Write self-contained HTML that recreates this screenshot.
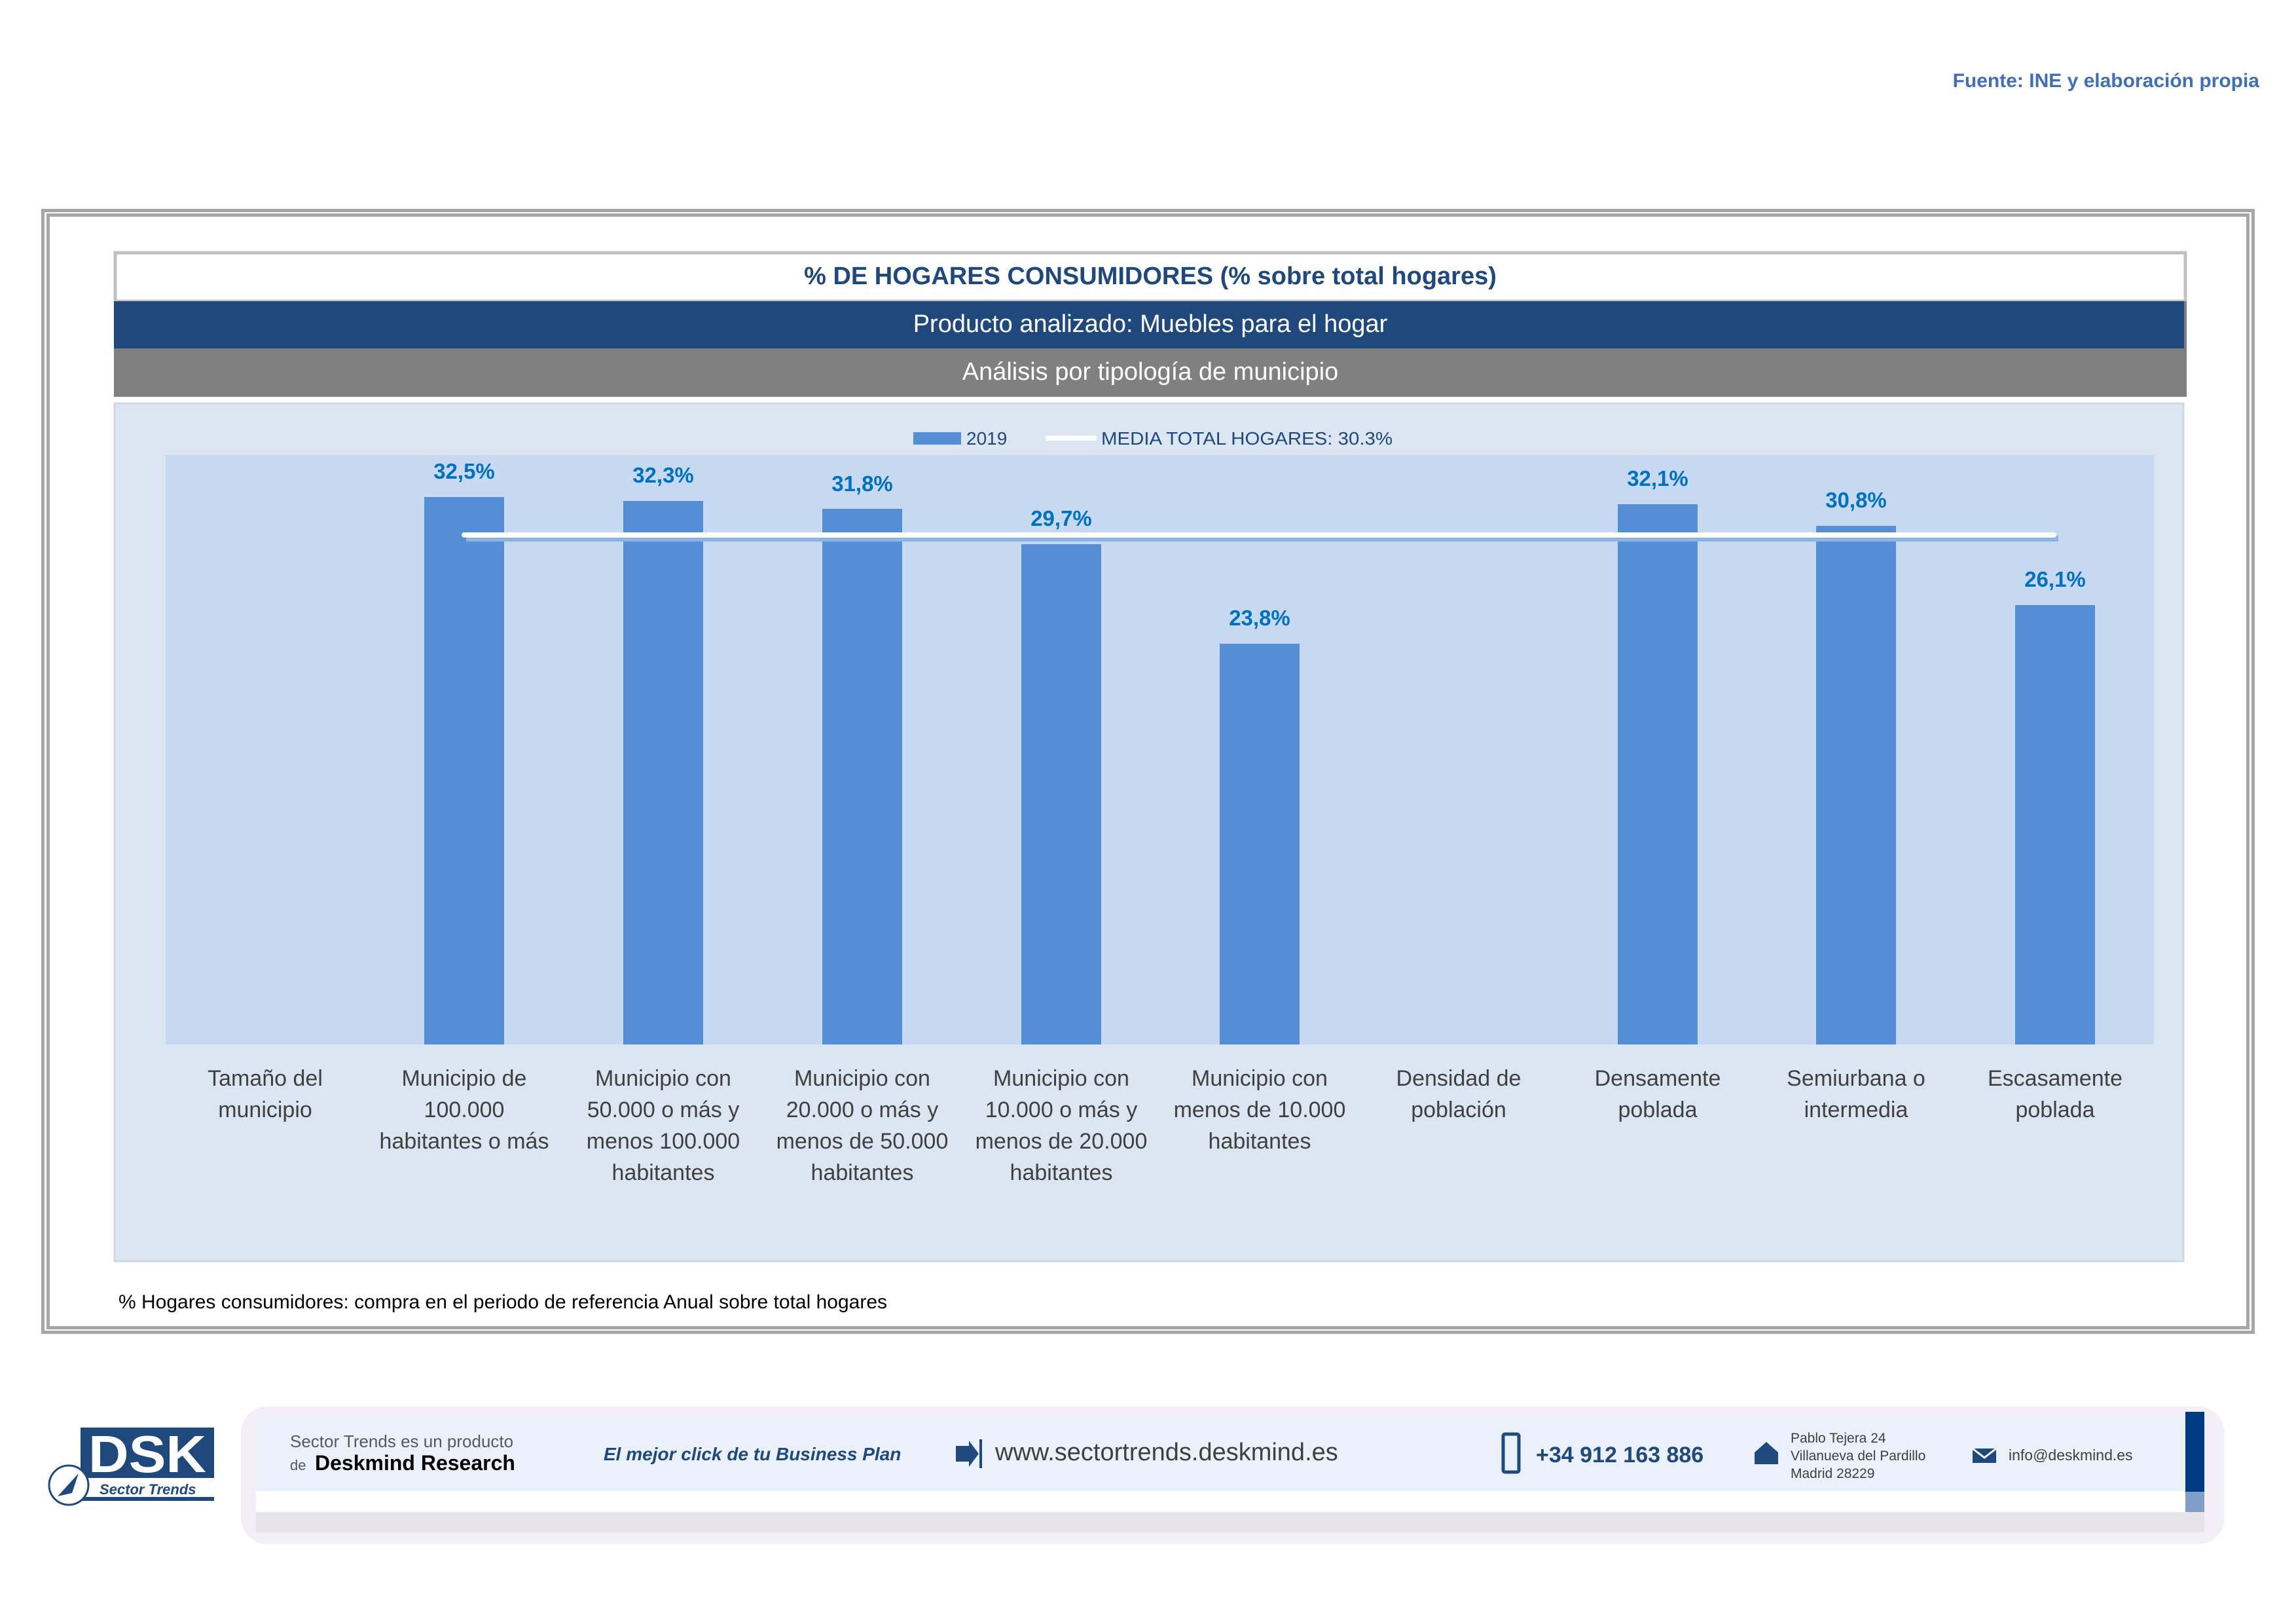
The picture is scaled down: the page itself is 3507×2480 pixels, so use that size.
<!DOCTYPE html>
<html><head><meta charset="utf-8"><style>
html,body{margin:0;padding:0;background:#fff;}
svg{display:block;}
</style></head><body>
<svg width="3507" height="2480" viewBox="0 0 3507 2480" xmlns="http://www.w3.org/2000/svg" font-family="Liberation Sans, sans-serif">
<rect width="3507" height="2480" fill="#fff"/>
<text x="3451" y="133" text-anchor="end" font-size="30" font-weight="bold" fill="#3f6fb5">Fuente: INE y elaboración propia</text>
<rect x="65.5" y="321.5" width="3376" height="1713" fill="none" stroke="#a6a6a6" stroke-width="5"/>
<rect x="73.5" y="328.5" width="3360" height="1699" fill="none" stroke="#a6a6a6" stroke-width="5"/>
<rect x="176" y="386" width="3162" height="74" fill="#fff" stroke="#c0c0c0" stroke-width="5"/>
<text x="1757" y="434" text-anchor="middle" font-size="38" font-weight="bold" fill="#1f497d">% DE HOGARES CONSUMIDORES (% sobre total hogares)</text>
<rect x="174" y="460" width="3166" height="72" fill="#1f497d"/>
<text x="1757" y="507" text-anchor="middle" font-size="38" fill="#fff">Producto analizado: Muebles para el hogar</text>
<rect x="174" y="532" width="3166" height="74" fill="#808080"/>
<rect x="3336" y="460" width="4" height="146" fill="#7f7f7f"/>
<text x="1757" y="580" text-anchor="middle" font-size="38" fill="#fff">Análisis por tipología de municipio</text>
<rect x="175" y="616" width="3160" height="1310" fill="#dce6f2" stroke="#d0d7e0" stroke-width="3"/>
<rect x="253" y="695" width="3037" height="900" fill="#c6d9f0"/>
<rect x="1395" y="660" width="73" height="19" fill="#558ed5"/>
<text x="1476" y="679" font-size="28" fill="#1f497d">2019</text>
<rect x="1597" y="665" width="78" height="8" rx="3" fill="#fff"/>
<text x="1682" y="679" font-size="28" fill="#1f497d" textLength="445" lengthAdjust="spacingAndGlyphs">MEDIA TOTAL  HOGARES:  30.3%</text>
<g fill="#558ed5">
<rect x="648" y="759" width="122" height="836"/>
<rect x="952" y="765" width="122" height="830"/>
<rect x="1256" y="777" width="122" height="818"/>
<rect x="1560" y="831" width="122" height="764"/>
<rect x="1863" y="983" width="122" height="612"/>
<rect x="2471" y="770" width="122" height="825"/>
<rect x="2774" y="803" width="122" height="792"/>
<rect x="3078" y="924" width="122" height="671"/>
</g>
<rect x="712" y="818" width="2432" height="9" fill="#8eb4e3"/>
<rect x="705" y="813" width="2436" height="8" rx="4" fill="#fff"/>
<g font-size="33" font-weight="bold" fill="#0070c0" text-anchor="middle">
<text x="709" y="731">32,5%</text>
<text x="1013" y="737">32,3%</text>
<text x="1317" y="750">31,8%</text>
<text x="1621" y="803">29,7%</text>
<text x="1924" y="955">23,8%</text>
<text x="2532" y="742">32,1%</text>
<text x="2835" y="775">30,8%</text>
<text x="3139" y="896">26,1%</text>
</g>
<g font-size="34" fill="#404040" text-anchor="middle">
<text x="405" y="1658">Tamaño del</text><text x="405" y="1706">municipio</text>
<text x="709" y="1658">Municipio de</text><text x="709" y="1706">100.000</text><text x="709" y="1754">habitantes o más</text>
<text x="1013" y="1658">Municipio con</text><text x="1013" y="1706">50.000 o más y</text><text x="1013" y="1754">menos 100.000</text><text x="1013" y="1802">habitantes</text>
<text x="1317" y="1658">Municipio con</text><text x="1317" y="1706">20.000 o más y</text><text x="1317" y="1754">menos de 50.000</text><text x="1317" y="1802">habitantes</text>
<text x="1621" y="1658">Municipio con</text><text x="1621" y="1706">10.000 o más y</text><text x="1621" y="1754">menos de 20.000</text><text x="1621" y="1802">habitantes</text>
<text x="1924" y="1658">Municipio con</text><text x="1924" y="1706">menos de 10.000</text><text x="1924" y="1754">habitantes</text>
<text x="2228" y="1658">Densidad de</text><text x="2228" y="1706">población</text>
<text x="2532" y="1658">Densamente</text><text x="2532" y="1706">poblada</text>
<text x="2835" y="1658">Semiurbana o</text><text x="2835" y="1706">intermedia</text>
<text x="3139" y="1658">Escasamente</text><text x="3139" y="1706">poblada</text>
</g>
<text x="181" y="1998" font-size="30" fill="#000">% Hogares consumidores: compra en el periodo de referencia Anual sobre total hogares</text>
<rect x="368" y="2148" width="3030" height="210" rx="40" fill="#f3eef7"/>
<rect x="391" y="2300" width="2976" height="40" fill="#e6e4e8"/>
<rect x="391" y="2165" width="2950" height="112" fill="#eaf1fb"/>
<rect x="391" y="2277" width="2950" height="32" fill="#fff"/>
<rect x="3338" y="2156" width="29" height="122" fill="#003a80"/>
<rect x="3338" y="2278" width="29" height="31" fill="#7f9fc8"/>
<rect x="123" y="2180" width="204" height="77" fill="#1f497d"/>
<text x="225" y="2248" text-anchor="middle" font-size="80" font-weight="bold" fill="#fff" textLength="180" lengthAdjust="spacingAndGlyphs">DSK</text>
<text x="152" y="2282" font-size="22" font-style="italic" font-weight="bold" fill="#1f497d">Sector Trends</text>
<rect x="123" y="2286" width="204" height="6" fill="#1f497d"/>
<circle cx="105" cy="2268" r="30" fill="#fff" stroke="#1f497d" stroke-width="3"/>
<path d="M88 2285 L120 2250 L110 2280 Z" fill="#1f497d"/>
<text x="443" y="2210" font-size="26" fill="#595959">Sector Trends es un producto</text>
<text x="443" y="2245" font-size="22" fill="#595959">de</text>
<text x="481" y="2245" font-size="32" font-weight="bold" fill="#000">Deskmind Research</text>
<text x="922" y="2230" font-size="28" font-weight="bold" font-style="italic" fill="#1f497d">El mejor click de tu Business Plan</text>
<path d="M1460 2208 L1480 2208 L1480 2200 L1495 2220 L1480 2240 L1480 2232 L1460 2232 Z" fill="#1f497d"/>
<rect x="1496" y="2198" width="4" height="44" fill="#1f497d"/>
<text x="1520" y="2230" font-size="38" fill="#404040">www.sectortrends.deskmind.es</text>
<rect x="2296" y="2190" width="24" height="58" rx="3" fill="none" stroke="#1f497d" stroke-width="5"/>
<text x="2346" y="2233" font-size="34" font-weight="bold" fill="#1f497d">+34 912 163 886</text>
<path d="M2680 2218 L2698 2202 L2716 2218 L2716 2236 L2680 2236 Z" fill="#1f497d"/>
<text x="2735" y="2203" font-size="21" fill="#404040">Pablo Tejera 24</text>
<text x="2735" y="2230" font-size="21" fill="#404040">Villanueva del Pardillo</text>
<text x="2735" y="2257" font-size="21" fill="#404040">Madrid 28229</text>
<rect x="3013" y="2212" width="36" height="22" fill="#1f497d"/>
<path d="M3013 2212 L3031 2226 L3049 2212" fill="none" stroke="#fff" stroke-width="3"/>
<text x="3068" y="2230" font-size="23" fill="#404040">info@deskmind.es</text>
</svg>
</body></html>
